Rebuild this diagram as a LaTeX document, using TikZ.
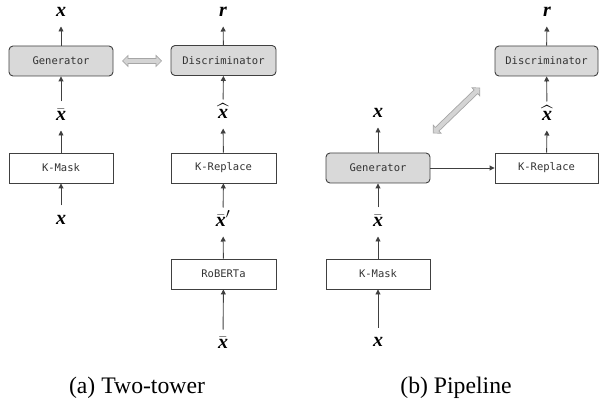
\documentclass[tikz,border=0pt]{standalone}
\usepackage{fontspec}
\setmainfont{Liberation Serif}
\newfontfamily\serifont{Liberation Serif}
\newfontfamily\codefont{DejaVu Sans Mono}
\usepackage{amsmath}
\usetikzlibrary{shapes.arrows, arrows.meta}
\definecolor{boxgray}{HTML}{D9D9D9}
\definecolor{linegray}{HTML}{404040}
\definecolor{textgray}{HTML}{333333}
\definecolor{swapfill}{HTML}{D4D4D4}
\definecolor{swapedge}{HTML}{A6A6A6}
\newcommand{\vx}{{\serifont\bfseries\itshape x}}

\begin{document}
\begin{tikzpicture}[x=1pt, y=-1pt,
  block/.style={draw=linegray, line width=0.9pt, minimum width=104pt, minimum height=30pt,
    inner sep=0pt, text=textgray, font=\codefont\fontsize{10.5}{12}\selectfont},
  model/.style={block, fill=boxgray, rounded corners=4pt},
  lbl/.style={inner sep=0pt, outer sep=10pt, text height=9pt, text depth=0pt,
    font=\serifont\fontsize{20}{24}\selectfont},
  flow/.style={draw=linegray, line width=0.9pt, -{Triangle[length=5pt,width=5pt]}},
  swap/.style={double arrow, draw=swapedge, fill=swapfill, line width=0.7pt,
    inner xsep=0pt, inner ysep=2.2pt, minimum width=11pt,
    double arrow head extend=3pt, double arrow head indent=0pt}
]
	\useasboundingbox (0,0) rectangle (599,403);

	% (a) two-tower: generator side
	\node[model] (gen1) at (61,61) {Generator};
	\node[block] (mask1) at (61,168) {K-Mask};
	\node[lbl] (xout1) at (61,12) {\vx};
	\node[lbl] (xbar1) at (61,116) {$\bar{\hbox{\vx}}$};
	\node[lbl] (xin1) at (61,220) {\vx};

	% (a) two-tower: discriminator side
	\node[model, minimum width=105pt] (disc1) at (223.5,60.5) {Discriminator};
	\node[block, minimum width=105pt] (repl1) at (223.5,168) {K-Replace};
	\node[block, minimum width=105pt] (rob) at (223.5,274) {RoBERTa};
	\node[lbl] (r1) at (223,12) {{\bfseries\itshape r}};
	\node[lbl] (hat1) at (223,114) {$\widehat{\hbox{\vx}}$};
	\node[lbl] (xbarp) at (223,222) {$\bar{\hbox{\vx}}'$};
	\node[lbl] (xbar2) at (223,344) {$\bar{\hbox{\vx}}$};

	\draw[flow] (gen1) -- (xout1);
	\draw[flow] (xbar1) -- (gen1);
	\draw[flow] (mask1) -- (xbar1);
	\draw[flow] (xin1) -- (mask1);
	\draw[flow] (disc1) -- (r1);
	\draw[flow] (hat1) -- (disc1);
	\draw[flow] (repl1) -- (hat1);
	\draw[flow] (xbarp) -- (repl1);
	\draw[flow] (rob) -- (xbarp);
	\draw[flow] (xbar2) -- (rob);

	\node[swap, minimum height=39pt] (swap1) at (142,61) {};

	% (b) pipeline
	\node[model] (gen2) at (378,168) {Generator};
	\node[block] (mask2) at (378,274) {K-Mask};
	\node[block, minimum width=103pt] (repl2) at (546.5,168) {K-Replace};
	\node[model, minimum width=103pt] (disc2) at (546.5,61) {Discriminator};
	\node[lbl] (xout2) at (378,113) {\vx};
	\node[lbl] (xbar3) at (378,222) {$\bar{\hbox{\vx}}$};
	\node[lbl] (xin2) at (378,342) {\vx};
	\node[lbl] (hat2) at (547,116) {$\widehat{\hbox{\vx}}$};
	\node[lbl] (r2) at (547,12) {{\bfseries\itshape r}};

	\draw[flow] (gen2) -- (xout2);
	\draw[flow] (xbar3) -- (gen2);
	\draw[flow] (mask2) -- (xbar3);
	\draw[flow] (xin2) -- (mask2);
	\draw[flow] (gen2) -- (repl2);
	\draw[flow] (repl2) -- (hat2);
	\draw[flow] (hat2) -- (disc2);
	\draw[flow] (disc2) -- (r2);

	\node[swap, minimum height=65pt, rotate=44] (swap2) at (456.5,110.5) {};

	% captions
	\node[anchor=base, font=\serifont\fontsize{23.7}{28}\selectfont] (capa) at (137,393) {(a) Two-tower};
	\node[anchor=base, font=\serifont\fontsize{23.7}{28}\selectfont] (capb) at (456,393) {(b) Pipeline};
\end{tikzpicture}
\end{document}
